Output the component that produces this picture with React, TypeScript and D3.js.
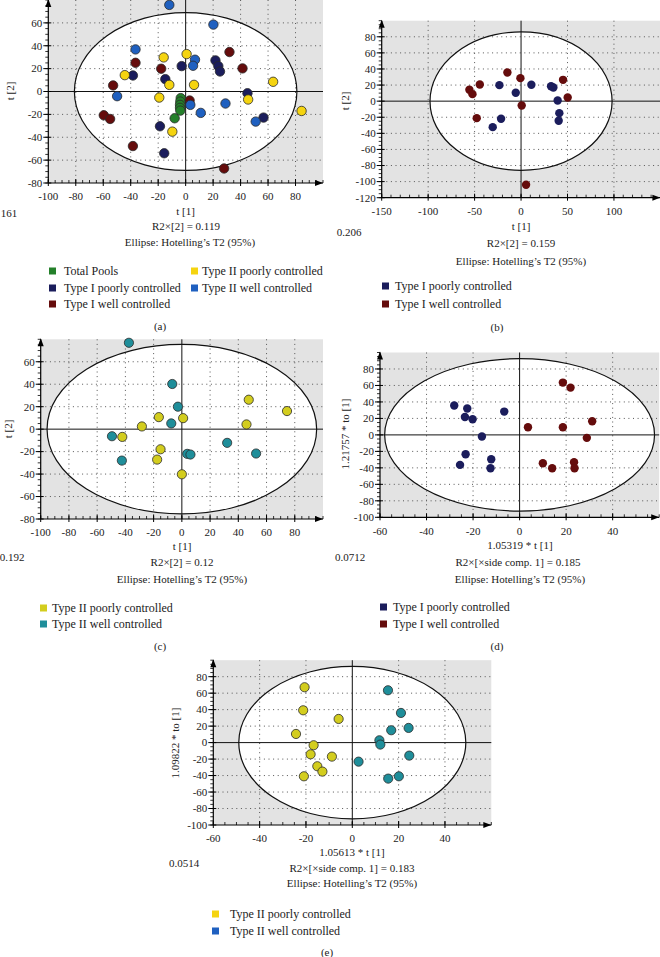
import React from 'react';
import * as d3 from 'd3';

type P = [number, number];

// ---------- Panel (a) data ----------
const aTotalPools: P[] = [[-3.6, -5.8], [-3.9, -8.8], [-4.1, -11.7], [-4.1, -14.3], [-3.9, -16.7], [-8, -23.4]];
const aType1Poor: P[] = [[-2.9, 22.2], [21.7, 27.2], [23.8, 22.2], [25, 17.5], [-38.4, 14], [-14.8, 10.8], [45, -1.5], [56.7, -22.8], [-18.7, -30.4], [-15.6, -54]];
const aType1Well: P[] = [[31.9, 34.5], [-36.5, 25.1], [-17.8, 19.9], [41.4, 20.2], [-52.8, 5.3], [2.9, -7.9], [-59.6, -20.8], [-55, -24], [-38.4, -47.7], [28, -67.3]];
const aType2Poor: P[] = [[-16, 29.8], [0.7, 32.7], [-44.3, 14.3], [-11.9, 5.8], [6.1, 5.8], [63.7, 8.5], [-19.2, -5.3], [45.5, -7], [84.4, -17], [-9.7, -35.1]];
const aType2Well: P[] = [[-11.9, 75.7], [20.2, 58.5], [-36.5, 36.8], [6.8, 27.8], [5.4, 22.5], [-49.9, -4.1], [3.4, -11.7], [29, -10.5], [11, -18.7], [51, -26.3]];
const aXTicks = [-100, -80, -60, -40, -20, 0, 20, 40, 60, 80];
const aYTicks = [-80, -60, -40, -20, 0, 20, 40, 60];
const aEllipse = [81, 69];

// ---------- Panel (b) data ----------
const bType1Poor: P[] = [[-23.3, 19.9], [-5.7, 10.4], [11.1, 20.3], [32.3, 18.6], [34.8, 17], [39.4, 0.8], [41.2, -14.9], [40.5, -24.4], [-21.5, -21.9], [-30.5, -32.3]];
const bType1Well: P[] = [[-14.7, 35.6], [-0.7, 28.6], [-44.4, 20.7], [-55.6, 14.1], [-52.3, 8.7], [45.2, 26.5], [50.2, 4.6], [0.7, -5.4], [-47.7, -21.1], [5.4, -103.9]];
const bXTicks = [-150, -100, -50, 0, 50, 100];
const bYTicks = [-120, -100, -80, -60, -40, -20, 0, 20, 40, 60, 80];
const bEllipse = [98, 86];

// ---------- Panel (c) data ----------
const cType2Poor: P[] = [[-16.3, 10.7], [0.9, 9.8], [-28.3, 2.4], [-42.2, -6.9], [-15.1, -17.9], [-17.5, -27.1], [0, -40.2], [45.8, 4.2], [47.4, 26.2], [74.5, 16.1]];
const cType2Well: P[] = [[-37.5, 76.9], [-6.8, 40.2], [-2.8, 20], [-7.5, 5.1], [-49.5, -6.3], [-42.5, -28], [3.8, -22], [6.1, -22.6], [32.1, -12.2], [52.6, -21.7]];
const cXTicks = [-100, -80, -60, -40, -20, 0, 20, 40, 60, 80];
const cYTicks = [-80, -60, -40, -20, 0, 20, 40, 60];
const cEllipse = [95.5, 75.5];

// ---------- Panel (d) data ----------
const dType1Poor: P[] = [[-28.1, 35.6], [-22.5, 32], [-23.5, 21.8], [-20.2, 19], [-6.6, 28.3], [-16.2, -2], [-23.2, -23.5], [-25.6, -36.4], [-12.2, -29.5], [-12.5, -40.5]];
const dType1Well: P[] = [[18.6, 63.5], [21.9, 57.4], [31.2, 16.6], [3.6, 9.3], [18.6, 9.3], [28.9, -3.6], [10, -34.4], [14, -40.5], [23.4, -33.2], [23.6, -40.5]];
const dXTicks = [-60, -40, -20, 0, 20, 40];
const dYTicks = [-100, -80, -60, -40, -20, 0, 20, 40, 60, 80];
const dEllipse = [58, 92.5];

// ---------- Panel (e) data ----------
const eType2Poor: P[] = [[-20.6, 67.2], [-21.2, 39.2], [-5.9, 28.7], [-24.3, 10.5], [-16.7, -3.2], [-18, -14.2], [-8.8, -17], [-15.1, -28.7], [-12.9, -35.2], [-20.9, -40.9]];
const eType2Well: P[] = [[15.4, 63.5], [21, 36], [16.8, 15], [24.3, 17.8], [11.7, 2.8], [12.1, -2.4], [24.6, -15.8], [2.7, -23.1], [20.1, -40.9], [15.5, -43.7]];
const eXTicks = [-60, -40, -20, 0, 20, 40];
const eYTicks = [-100, -80, -60, -40, -20, 0, 20, 40, 60, 80];
const eEllipse = [49, 92.5];

// ---------- Labels ----------
const groupNames = ['Total Pools', 'Type I poorly controlled', 'Type I well controlled', 'Type II poorly controlled', 'Type II well controlled'];
const ellipseLabel = 'Ellipse: Hotelling\u2019s T2 (95%)';

const FONT = "'Liberation Serif', 'Times New Roman', serif";

const C = {
  green: '#24802a',
  navy: '#1b1d5c',
  red: '#650c0c',
  yellow: '#f5d410',
  blue: '#1f60c0',
  olive: '#d3cd1e',
  teal: '#1f8e9a',
};

type Series = { data: P[]; color: string };
type Txt = { t: string; x: number; y: number; rot?: boolean };
type Leg = { t: string; color: string; sx: number; tx: number; y: number };

type Cfg = {
  left: number; right: number; top: number; bottom: number;
  xDomain: [number, number]; yDomain: [number, number];
  xTicks: number[]; yTicks: number[]; minorX: number; minorY: number;
  ellipse: number[]; r: number; stroke: boolean;
  series: Series[]; texts: Txt[]; legend: Leg[];
};

function Panel({ cfg }: { cfg: Cfg }) {
  const x = d3.scaleLinear().domain(cfg.xDomain).range([cfg.left, cfg.right]);
  const y = d3.scaleLinear().domain(cfg.yDomain).range([cfg.bottom, cfg.top]);
  const { left, right, top, bottom } = cfg;
  const minorXs = d3.range(cfg.xDomain[0], cfg.xDomain[1] + 1e-6, cfg.minorX);
  const minorYs = d3.range(cfg.yDomain[0], cfg.yDomain[1] + 1e-6, cfg.minorY);
  const gridX = cfg.xTicks.filter(v => v !== 0 && v > cfg.xDomain[0] && v < cfg.xDomain[1]);
  const gridY = cfg.yTicks.filter(v => v !== 0 && v > cfg.yDomain[0] && v < cfg.yDomain[1]);
  const ex = x(cfg.ellipse[0]) - x(0);
  const ey = y(0) - y(cfg.ellipse[1]);
  return (
    <g>
      <rect x={left} y={top} width={right - left} height={bottom - top} fill="#e3e3e3" />
      <ellipse cx={x(0)} cy={y(0)} rx={ex} ry={ey} fill="#ffffff" />
      {gridX.map(v => (
        <line key={'gx' + v} x1={x(v)} x2={x(v)} y1={top} y2={bottom} stroke="#555" strokeWidth={1} strokeDasharray="1,3.6" />
      ))}
      {gridY.map(v => (
        <line key={'gy' + v} x1={left} x2={right} y1={y(v)} y2={y(v)} stroke="#555" strokeWidth={1} strokeDasharray="1,3.6" />
      ))}
      <line x1={x(0)} x2={x(0)} y1={top} y2={bottom} stroke="#111" strokeWidth={1} />
      <line x1={left} x2={right} y1={y(0)} y2={y(0)} stroke="#111" strokeWidth={1} />
      <ellipse cx={x(0)} cy={y(0)} rx={ex} ry={ey} fill="none" stroke="#111" strokeWidth={1.2} />
      {cfg.series.map((s, i) => (
        <g key={'s' + i}>
          {s.data.map((d, j) => (
            <circle key={j} cx={x(d[0])} cy={y(d[1])} r={cfg.r} fill={s.color}
              stroke={cfg.stroke ? '#2a2a2a' : 'none'} strokeWidth={cfg.stroke ? 0.8 : 0} />
          ))}
        </g>
      ))}
      {/* axes */}
      <line x1={left} x2={left} y1={bottom} y2={top} stroke="#000" strokeWidth={1.2} />
      <line x1={left} x2={right} y1={bottom} y2={bottom} stroke="#000" strokeWidth={1.2} />
      <polygon points={`${left},${top - 1} ${left - 3},${top + 7} ${left + 3},${top + 7}`} fill="#000" />
      <polygon points={`${right},${bottom} ${right - 8},${bottom - 3} ${right - 8},${bottom + 3}`} fill="#000" />
      {minorXs.map(v => (
        <line key={'mx' + v} x1={x(v)} x2={x(v)} y1={bottom} y2={bottom - 3} stroke="#000" strokeWidth={0.8} />
      ))}
      {minorYs.map(v => (
        <line key={'my' + v} x1={left} x2={left - 3} y1={y(v)} y2={y(v)} stroke="#000" strokeWidth={0.8} />
      ))}
      {cfg.xTicks.map(v => (
        <g key={'tx' + v}>
          <line x1={x(v)} x2={x(v)} y1={bottom - 4} y2={bottom + 3} stroke="#000" strokeWidth={1} />
          <text x={x(v)} y={bottom + 13.5} dy="0.35em" textAnchor="middle" fontSize={11} fontFamily={FONT} fill="#222">{v}</text>
        </g>
      ))}
      {cfg.yTicks.map(v => (
        <g key={'ty' + v}>
          <line x1={left - 5} x2={left + 3} y1={y(v)} y2={y(v)} stroke="#000" strokeWidth={1} />
          <text x={left - 6} y={y(v)} dy="0.35em" textAnchor="end" fontSize={11} fontFamily={FONT} fill="#222">{v}</text>
        </g>
      ))}
      {cfg.texts.map((t, i) => (
        <text key={'t' + i} x={t.x} y={t.y} dy="0.35em" textAnchor="middle" fontSize={11} fontFamily={FONT} fill="#222"
          transform={t.rot ? `rotate(-90 ${t.x} ${t.y})` : undefined}>{t.t}</text>
      ))}
      {cfg.legend.map((l, i) => (
        <g key={'l' + i}>
          <rect x={l.sx} y={l.y - 3.5} width={7} height={7} fill={l.color} />
          <text x={l.tx} y={l.y} dy="0.35em" fontSize={12} fontFamily={FONT} fill="#222">{l.t}</text>
        </g>
      ))}
    </g>
  );
}

const panels: Cfg[] = [
  {
    left: 48.3, right: 323, top: 0, bottom: 183, xDomain: [-100, 100], yDomain: [-80, 80],
    xTicks: aXTicks, yTicks: aYTicks, minorX: 5, minorY: 5, ellipse: aEllipse, r: 4.7, stroke: true,
    series: [
      { data: aType1Well, color: C.red },
      { data: aType1Poor, color: C.navy },
      { data: aType2Well, color: C.blue },
      { data: aType2Poor, color: C.yellow },
      { data: aTotalPools, color: C.green },
    ],
    texts: [
      { t: 't [2]', x: 10, y: 91, rot: true },
      { t: 't [1]', x: 185.6, y: 211 },
      { t: '161', x: 9, y: 213 },
      { t: 'R2\u00d7[2] = 0.119', x: 186, y: 226 },
      { t: ellipseLabel, x: 190, y: 242 },
      { t: '(a)', x: 160, y: 326 },
    ],
    legend: [
      { t: groupNames[0], color: C.green, sx: 49, tx: 64, y: 271 },
      { t: groupNames[1], color: C.navy, sx: 49, tx: 64, y: 288 },
      { t: groupNames[2], color: C.red, sx: 49, tx: 64, y: 304 },
      { t: groupNames[3], color: C.yellow, sx: 191, tx: 202, y: 271 },
      { t: groupNames[4], color: C.blue, sx: 191, tx: 202, y: 288 },
    ],
  },
  {
    left: 381.7, right: 660.4, top: 20.7, bottom: 197.7, xDomain: [-150, 150], yDomain: [-120, 100],
    xTicks: bXTicks, yTicks: bYTicks, minorX: 10, minorY: 5, ellipse: bEllipse, r: 4.2, stroke: false,
    series: [
      { data: bType1Poor, color: C.navy },
      { data: bType1Well, color: C.red },
    ],
    texts: [
      { t: 't [2]', x: 345, y: 101, rot: true },
      { t: 't [1]', x: 521, y: 226 },
      { t: '0.206', x: 349, y: 232 },
      { t: 'R2\u00d7[2] = 0.159', x: 521, y: 243 },
      { t: ellipseLabel, x: 521, y: 261 },
      { t: '(b)', x: 497, y: 327 },
    ],
    legend: [
      { t: groupNames[1], color: C.navy, sx: 382, tx: 395, y: 286 },
      { t: groupNames[2], color: C.red, sx: 382, tx: 395, y: 304 },
    ],
  },
  {
    left: 40.7, right: 323, top: 339.3, bottom: 519, xDomain: [-100, 100], yDomain: [-80, 80],
    xTicks: cXTicks, yTicks: cYTicks, minorX: 5, minorY: 5, ellipse: cEllipse, r: 4.6, stroke: true,
    series: [
      { data: cType2Poor, color: C.olive },
      { data: cType2Well, color: C.teal },
    ],
    texts: [
      { t: 't [2]', x: 8, y: 429, rot: true },
      { t: 't [1]', x: 182, y: 546 },
      { t: '0.192', x: 12, y: 557 },
      { t: 'R2\u00d7[2] = 0.12', x: 182, y: 562 },
      { t: ellipseLabel, x: 182, y: 579 },
      { t: '(c)', x: 160, y: 646 },
    ],
    legend: [
      { t: groupNames[3], color: C.olive, sx: 40, tx: 52, y: 608 },
      { t: groupNames[4], color: C.teal, sx: 40, tx: 52, y: 624 },
    ],
  },
  {
    left: 380, right: 659.2, top: 352.5, bottom: 517.3, xDomain: [-60, 60], yDomain: [-100, 100],
    xTicks: dXTicks, yTicks: dYTicks, minorX: 5, minorY: 5, ellipse: dEllipse, r: 4.2, stroke: false,
    series: [
      { data: dType1Poor, color: C.navy },
      { data: dType1Well, color: C.red },
    ],
    texts: [
      { t: '1.21757 * to [1]', x: 345, y: 434, rot: true },
      { t: '1.05319 * t [1]', x: 520, y: 545 },
      { t: '0.0712', x: 350, y: 557 },
      { t: 'R2\u00d7[\u00d7side comp. 1] = 0.185', x: 518, y: 562 },
      { t: ellipseLabel, x: 520, y: 579 },
      { t: '(d)', x: 497, y: 646 },
    ],
    legend: [
      { t: groupNames[1], color: C.navy, sx: 380, tx: 393, y: 607 },
      { t: groupNames[2], color: C.red, sx: 380, tx: 393, y: 624 },
    ],
  },
  {
    left: 213.3, right: 491.3, top: 660.2, bottom: 825, xDomain: [-60, 60], yDomain: [-100, 100],
    xTicks: eXTicks, yTicks: eYTicks, minorX: 5, minorY: 5, ellipse: eEllipse, r: 4.6, stroke: true,
    series: [
      { data: eType2Poor, color: C.olive },
      { data: eType2Well, color: C.teal },
    ],
    texts: [
      { t: '1.09822 * to [1]', x: 175, y: 743, rot: true },
      { t: '1.05613 * t [1]', x: 352, y: 852 },
      { t: '0.0514', x: 184, y: 863 },
      { t: 'R2\u00d7[\u00d7side comp. 1] = 0.183', x: 352, y: 868 },
      { t: ellipseLabel, x: 352, y: 883 },
      { t: '(e)', x: 327, y: 952 },
    ],
    legend: [
      { t: groupNames[3], color: C.yellow, sx: 212, tx: 230, y: 914 },
      { t: groupNames[4], color: C.blue, sx: 212, tx: 230, y: 931 },
    ],
  },
];

export default function App() {
  return (
    <svg width={660} height={957} viewBox="0 0 660 957"
      style={{ position: 'absolute', left: 0, top: 0, background: '#fff' }}>
      <rect x={0} y={0} width={660} height={957} fill="#fff" />
      {panels.map((p, i) => <Panel key={i} cfg={p} />)}
    </svg>
  );
}
